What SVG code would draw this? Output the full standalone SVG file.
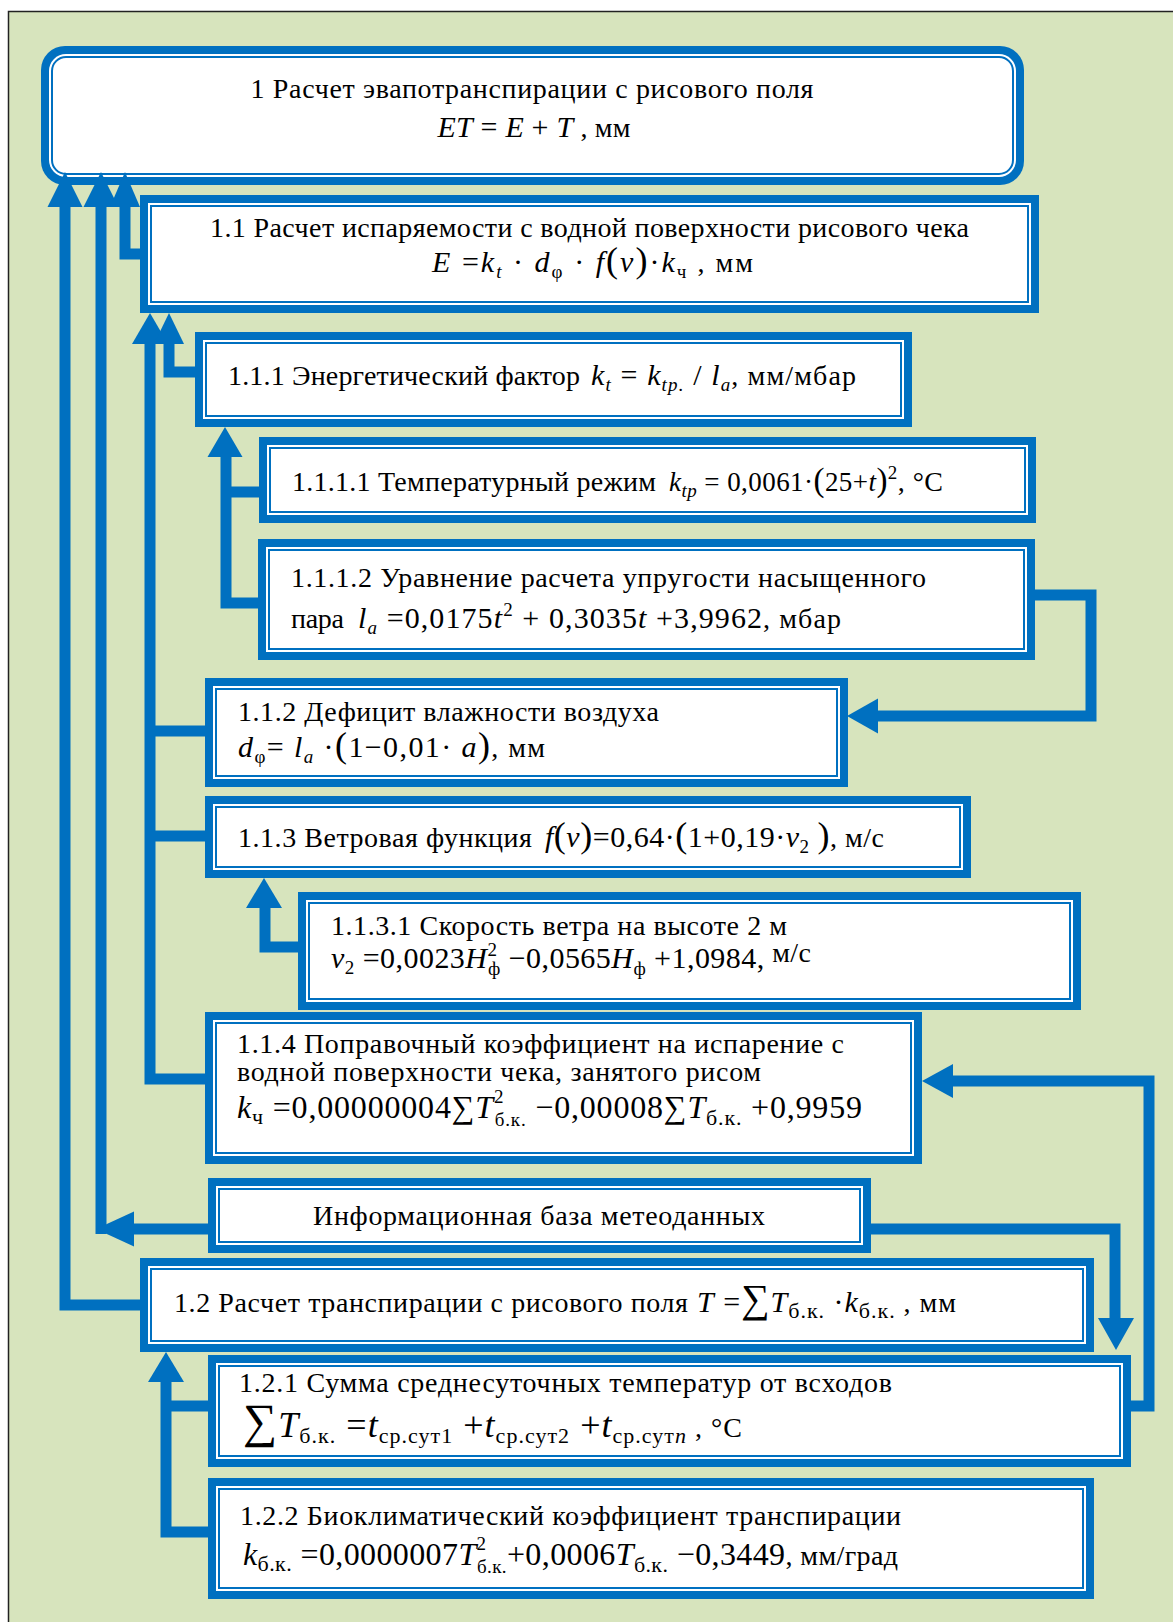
<svg xmlns="http://www.w3.org/2000/svg" width="1173" height="1622" viewBox="0 0 1173 1622">
<style>
text{font-family:"Liberation Serif","Times New Roman",serif;font-size:28px;fill:#000}
.m{font-size:30px}
.s{font-size:19px}
.s2{font-size:22px}
.i{font-style:italic}
.p{font-size:36px}
.t{font-size:28px;font-style:normal}
.bo{fill:#0070c0}
.bw{fill:#fff}
.bl{fill:none;stroke:#0070c0;stroke-width:2}
.c{fill:none;stroke:#0070c0;stroke-width:11;stroke-linejoin:miter}
.ah{fill:#0070c0}
</style>
<rect x="8.5" y="11.5" width="1180" height="1630" fill="#d7e4bd" stroke="#222" stroke-width="1.5"/>

<g id="n1">
<rect class="bo" x="41" y="46" width="983" height="139" rx="24"/>
<rect class="bw" x="49" y="54" width="967" height="123" rx="17"/>
<rect class="bl" x="52" y="57" width="961" height="117" rx="14"/>
<text x="532" y="98" text-anchor="middle" textLength="563">1 Расчет эвапотранспирации с рисового поля</text>
<text x="534" y="137" text-anchor="middle" class="m" textLength="193"><tspan class="i">ET</tspan> = <tspan class="i">E</tspan> + <tspan class="i">T</tspan><tspan class="t"> , мм</tspan></text>
</g>

<g id="n1_1">
<rect class="bo" x="140" y="195" width="899" height="118"/>
<rect class="bw" x="148" y="203" width="883" height="102"/>
<rect class="bl" x="151" y="206" width="877" height="96"/>
<text x="210" y="237" textLength="759">1.1 Расчет испаряемости с водной поверхности рисового чека</text>
<text x="432" y="272" class="m" textLength="321"><tspan class="i">E</tspan> =<tspan class="i">k</tspan><tspan class="s i" dy="6">t</tspan><tspan dy="-6"> · </tspan><tspan class="i">d</tspan><tspan class="s" dy="6">φ</tspan><tspan dy="-6"> · </tspan><tspan class="i">f</tspan><tspan class="p">(</tspan><tspan class="i">v</tspan><tspan class="p">)</tspan>·<tspan class="i">k</tspan><tspan class="s" dy="6">ч</tspan><tspan dy="-6" class="t"> , мм</tspan></text>
</g>

<g id="n1_1_1">
<rect class="bo" x="195" y="332" width="717" height="95"/>
<rect class="bw" x="203" y="340" width="701" height="79"/>
<rect class="bl" x="206" y="343" width="695" height="73"/>
<text x="228" y="385" textLength="352">1.1.1 Энергетический фактор</text>
<text x="591" y="385" class="m" textLength="265"><tspan class="i">k</tspan><tspan class="s i" dy="6">t</tspan><tspan dy="-6"> = </tspan><tspan class="i">k</tspan><tspan class="s i" dy="6">tp.</tspan><tspan dy="-6"> / </tspan><tspan class="i">l</tspan><tspan class="s i" dy="6">a</tspan><tspan dy="-6" class="t">, мм/мбар</tspan></text>
</g>

<g id="n1_1_1_1">
<rect class="bo" x="259" y="437" width="777" height="86"/>
<rect class="bw" x="267" y="445" width="761" height="70"/>
<rect class="bl" x="270" y="448" width="755" height="64"/>
<text x="292" y="491" textLength="364">1.1.1.1 Температурный режим</text>
<text x="669" y="491" style="font-size:27px" textLength="274"><tspan class="i">k</tspan><tspan class="s i" dy="6">tp</tspan><tspan dy="-6"> = 0,0061·</tspan><tspan font-size="33">(</tspan>25+<tspan class="i">t</tspan><tspan font-size="33">)</tspan><tspan class="s" dy="-12">2</tspan><tspan dy="12" class="t">, °C</tspan></text>
</g>

<g id="n1_1_1_2">
<rect class="bo" x="258" y="539" width="777" height="121"/>
<rect class="bw" x="266" y="547" width="761" height="105"/>
<rect class="bl" x="269" y="550" width="755" height="99"/>
<text x="291" y="587" textLength="635">1.1.1.2 Уравнение расчета упругости насыщенного</text>
<text x="291" y="628" textLength="53">пара</text>
<text x="358" y="628" class="m" textLength="483"><tspan class="i">l</tspan><tspan class="s i" dy="6">a</tspan><tspan dy="-6"> =0,0175</tspan><tspan class="i">t</tspan><tspan class="s" dy="-12">2</tspan><tspan dy="12"> + 0,3035</tspan><tspan class="i">t</tspan> +3,9962<tspan class="t">, мбар</tspan></text>
</g>

<g id="n1_1_2">
<rect class="bo" x="205" y="678" width="643" height="109"/>
<rect class="bw" x="213" y="686" width="627" height="93"/>
<rect class="bl" x="216" y="689" width="621" height="87"/>
<text x="238" y="721" textLength="421">1.1.2 Дефицит влажности воздуха</text>
<text x="238" y="757" class="m" textLength="307"><tspan class="i">d</tspan><tspan class="s" dy="6">φ</tspan><tspan dy="-6">= </tspan><tspan class="i">l</tspan><tspan class="s i" dy="6">a</tspan><tspan dy="-6"> ·</tspan><tspan class="p">(</tspan>1−0,01· <tspan class="i">a</tspan><tspan class="p">)</tspan><tspan class="t">, мм</tspan></text>
</g>

<g id="n1_1_3">
<rect class="bo" x="205" y="796" width="766" height="82"/>
<rect class="bw" x="213" y="804" width="750" height="66"/>
<rect class="bl" x="216" y="807" width="744" height="60"/>
<text x="238" y="847" textLength="294">1.1.3 Ветровая функция</text>
<text x="545" y="847" class="m" textLength="339"><tspan class="i">f</tspan><tspan class="p">(</tspan><tspan class="i">v</tspan><tspan class="p">)</tspan>=0,64·<tspan class="p">(</tspan>1+0,19·<tspan class="i">v</tspan><tspan class="s" dy="6">2</tspan><tspan dy="-6"> </tspan><tspan class="p">)</tspan><tspan class="t">, м/с</tspan></text>
</g>

<g id="n1_1_3_1">
<rect class="bo" x="298" y="892" width="783" height="118"/>
<rect class="bw" x="306" y="900" width="767" height="102"/>
<rect class="bl" x="309" y="903" width="761" height="96"/>
<text x="331" y="935" textLength="456">1.1.3.1 Скорость ветра на высоте 2 м</text>
<text x="331" y="968" class="m" textLength="480"><tspan class="i">v</tspan><tspan class="s" dy="6">2</tspan><tspan dy="-6"> =0,0023</tspan><tspan class="i">H</tspan><tspan class="s" dy="-12">2</tspan><tspan class="s" dx="-9.5" dy="19">ф</tspan><tspan dy="-7"> −0,0565</tspan><tspan class="i">H</tspan><tspan class="s" dy="7">ф</tspan><tspan dy="-7"> +1,0984,</tspan><tspan class="t" dy="-6"> м/с</tspan></text>
</g>

<g id="n1_1_4">
<rect class="bo" x="205" y="1012" width="717" height="152"/>
<rect class="bw" x="213" y="1020" width="701" height="136"/>
<rect class="bl" x="216" y="1023" width="695" height="130"/>
<text x="237" y="1053" textLength="607">1.1.4 Поправочный коэффициент на испарение с</text>
<text x="237" y="1081" textLength="524">водной поверхности чека, занятого рисом</text>
<text x="237" y="1118" style="font-size:32px" textLength="625"><tspan class="i">k</tspan><tspan class="s2" dy="6">ч</tspan><tspan dy="-6"> =0,00000004∑</tspan><tspan class="i">T</tspan><tspan class="s" dy="-15">2</tspan><tspan class="s" dx="-9.5" dy="23">б.к.</tspan><tspan dy="-8"> −0,00008∑</tspan><tspan class="i">T</tspan><tspan class="s2" dy="7">б.к.</tspan><tspan dy="-7"> +0,9959</tspan></text>
</g>

<g id="n_info">
<rect class="bo" x="208" y="1178" width="663" height="75"/>
<rect class="bw" x="216" y="1186" width="647" height="59"/>
<rect class="bl" x="219" y="1189" width="641" height="53"/>
<text x="313" y="1225" textLength="452">Информационная база метеоданных</text>
</g>

<g id="n1_2">
<rect class="bo" x="140" y="1258" width="954" height="94"/>
<rect class="bw" x="148" y="1266" width="938" height="78"/>
<rect class="bl" x="151" y="1269" width="932" height="72"/>
<text x="174" y="1312" textLength="514">1.2 Расчет транспирации с рисового поля</text>
<text x="697" y="1312" class="m" textLength="259"><tspan class="i">T</tspan> =<tspan font-size="40">∑</tspan><tspan class="i">T</tspan><tspan class="s2" dy="6">б.к.</tspan><tspan dy="-6"> ·</tspan><tspan class="i">k</tspan><tspan class="s2" dy="6">б.к.</tspan><tspan dy="-6" class="t"> , мм</tspan></text>
</g>

<g id="n1_2_1">
<rect class="bo" x="208" y="1355" width="923" height="112"/>
<rect class="bw" x="216" y="1363" width="907" height="96"/>
<rect class="bl" x="219" y="1366" width="901" height="90"/>
<text x="239" y="1392" textLength="653">1.2.1 Сумма среднесуточных температур от всходов</text>
<text x="243" y="1437" style="font-size:36px" textLength="499"><tspan font-size="48">∑</tspan><tspan class="i">T</tspan><tspan class="s2" dy="6">б.к.</tspan><tspan dy="-6"> =</tspan><tspan class="i">t</tspan><tspan class="s2" dy="6">ср.сут1</tspan><tspan dy="-6"> +</tspan><tspan class="i">t</tspan><tspan class="s2" dy="6">ср.сут2</tspan><tspan dy="-6"> +</tspan><tspan class="i">t</tspan><tspan class="s2" dy="6">ср.сут<tspan class="i">n</tspan></tspan><tspan dy="-6" class="t"> , °C</tspan></text>
</g>

<g id="n1_2_2">
<rect class="bo" x="208" y="1478" width="886" height="121"/>
<rect class="bw" x="216" y="1486" width="870" height="105"/>
<rect class="bl" x="219" y="1489" width="864" height="99"/>
<text x="240" y="1525" textLength="661">1.2.2 Биоклиматический коэффициент транспирации</text>
<text x="243" y="1565" style="font-size:32px" textLength="655"><tspan class="i">k</tspan><tspan class="s2" dy="6">б.к.</tspan><tspan dy="-6"> =0,0000007</tspan><tspan class="i">T</tspan><tspan class="s" dy="-15">2</tspan><tspan class="s" dx="-9.5" dy="23">б.к.</tspan><tspan dy="-8">+0,0006</tspan><tspan class="i">T</tspan><tspan class="s2" dy="7">б.к.</tspan><tspan dy="-7"> −0,3449</tspan><tspan class="t">, мм/град</tspan></text>
</g>

<g id="connectors">
<path class="c" d="M65,205 V1305 H141"/>
<polygon class="ah" points="65,172 47.5,207 82.5,207"/>
<path class="c" d="M101,205 V1234"/>
<path class="c" d="M209,1229 H132"/>
<polygon class="ah" points="96,1229 134,1211.5 134,1246.5"/>
<polygon class="ah" points="101,172 83.5,207 118.5,207"/>
<path class="c" d="M125,205 V254 H141"/>
<polygon class="ah" points="125,172 110,207 140,207"/>
<path class="c" d="M150,342 V1079 H206"/>
<path class="c" d="M150,731 H206"/>
<path class="c" d="M150,836 H206"/>
<polygon class="ah" points="150,313 132,344 168,344"/>
<path class="c" d="M169,342 V372 H196"/>
<polygon class="ah" points="169,313 154,344 184,344"/>
<path class="c" d="M226,455 V603 H259"/>
<path class="c" d="M226,492 H260"/>
<polygon class="ah" points="225,427 207.5,457 242.5,457"/>
<path class="c" d="M1034,595 H1091 V716 H876"/>
<polygon class="ah" points="847,716 878,698.5 878,733.5"/>
<path class="c" d="M265,906 V947 H299"/>
<polygon class="ah" points="264,878 246,908 282,908"/>
<path class="c" d="M1130,1406 H1149 V1081 H951"/>
<polygon class="ah" points="922,1081 953,1064 953,1098"/>
<path class="c" d="M870,1229 H1115 V1320"/>
<polygon class="ah" points="1116,1350 1098,1318 1134,1318"/>
<path class="c" d="M166,1380 V1532 H209"/>
<path class="c" d="M166,1406 H209"/>
<polygon class="ah" points="166,1352 148,1382 184,1382"/>
</g>
</svg>
